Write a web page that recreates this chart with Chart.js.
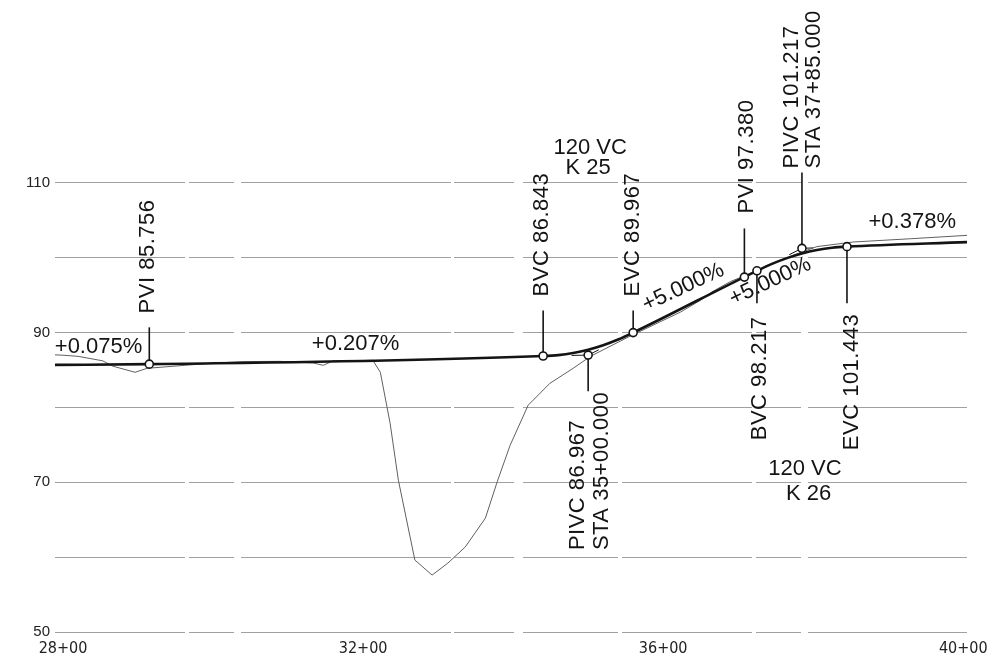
<!DOCTYPE html>
<html>
<head>
<meta charset="utf-8">
<script src="https://cdn.jsdelivr.net/npm/chart.js@4.4.1/dist/chart.umd.min.js"></script>
<style>
  html, body { margin: 0; padding: 0; background: #fff; }
  #wrap { width: 999px; height: 668px; }
</style>
</head>
<body>
<div id="wrap"><canvas id="profile" width="999" height="668"></canvas></div>
<script>
// Proposed grade (stations in feet, elevations in feet), incl. both 120' vertical curves
const gradeStations   = [2789, 2915, 3440, 3460, 3480, 3500, 3520, 3540, 3560, 3725, 3745, 3765, 3785, 3805, 3825, 3845, 4005];
const gradeElevations = [85.661, 85.756, 86.843, 86.964, 87.245, 87.686, 88.287, 89.047, 89.967, 98.217, 99.140, 99.909, 100.524, 100.985, 101.291, 101.444, 102.048];

// Existing ground
const groundStations   = [2789, 2800, 2820, 2853, 2866, 2896, 2912, 2996, 3040, 3089, 3134, 3147, 3160, 3213, 3223, 3236, 3247, 3269, 3292, 3313, 3336, 3363, 3379, 3396, 3420, 3449, 3480, 3503, 3556, 3623, 3650, 3665, 3690, 3710, 3740, 3776, 3805, 3853, 3930, 4005];
const groundElevations = [87.0, 86.95, 86.8, 86.2, 85.5, 84.67, 85.2, 85.87, 86.1, 86.13, 85.9, 85.6, 86.2, 86.27, 84.67, 77.87, 70.27, 59.6, 57.6, 59.2, 61.33, 65.2, 70.13, 74.93, 80.27, 83.2, 85.2, 86.8, 89.5, 92.7, 94.3, 95.4, 96.8, 97.6, 99.0, 100.4, 101.45, 102.06, 102.5, 102.95];

// Labelled profile points: PVI, BVC, PIVC, EVC
const markStations   = [2915, 3440, 3500, 3560, 3708.26, 3725, 3785, 3845];
const markElevations = [85.756, 86.843, 86.967, 89.967, 97.380, 98.217, 101.217, 101.443];

// Tangent stubs through each PIVC
const stubStations   = [[3478, 3500, 3514], [3768, 3785, 3800]];
const stubElevations = [[86.921, 86.967, 87.667], [100.367, 101.217, 101.274]];

// Axis ticks
const stationTicks    = [2800, 3200, 3600, 4000];
const elevationGrid   = [50, 60, 70, 80, 90, 100, 110];
const elevationLabels = [50, 70, 90, 110];

const toPoints = (xs, ys) => xs.map((s, i) => ({ x: s, y: ys[i] }));
const stationText = v => Math.floor(v / 100) + '+' + String(Math.round(v % 100)).padStart(2, '0');

// Leader lines: station, from elevation, to elevation
const leaders = [
  { s: 2915,    from: 85.756,  to: 90.67 },
  { s: 3440,    from: 86.843,  to: 92.93 },
  { s: 3560,    from: 89.967,  to: 92.93 },
  { s: 3500,    from: 86.967,  to: 82.13 },
  { s: 3708.26, from: 97.380,  to: 103.87 },
  { s: 3785,    from: 101.217, to: 111.33 },
  { s: 3725,    from: 98.217,  to: 93.87 },
  { s: 3845,    from: 101.443, to: 93.87 }
];

// Annotation text placed in station / elevation units
const notes = [
  { t: 'PVI 85.756',     s: 2913,   e: 92.53, rot: 'up' },
  { t: 'BVC 86.843',     s: 3438.7, e: 94.8,  rot: 'up' },
  { t: 'EVC 89.967',     s: 3560,   e: 94.8,  rot: 'up' },
  { t: 'PIVC 86.967',    s: 3486.7, e: 60.93, rot: 'up' },
  { t: 'STA 35+00.000',  s: 3518.0, e: 60.93, rot: 'up' },
  { t: 'PVI 97.380',     s: 3712,   e: 105.87, rot: 'up' },
  { t: 'PIVC 101.217',   s: 3771,   e: 111.87, rot: 'up' },
  { t: 'STA 37+85.000',  s: 3800.7, e: 111.87, rot: 'up' },
  { t: 'BVC 98.217',     s: 3728.7, e: 75.6,  rot: 'up' },
  { t: 'EVC 101.443',    s: 3851,   e: 74.27, rot: 'up' },
  { t: '120 VC',         s: 3502.7, e: 114.67 },
  { t: 'K 25',           s: 3500,   e: 112.0 },
  { t: '120 VC',         s: 3789,   e: 71.8 },
  { t: 'K 26',           s: 3794,   e: 68.47 },
  { t: '+0.075%',        s: 2847.3, e: 88.07 },
  { t: '+0.207%',        s: 3190,   e: 88.47 },
  { t: '+0.378%',        s: 3932,   e: 104.8 },
  { t: '+5.000%',        s: 3626.7, e: 96.0,  angle: -25 },
  { t: '+5.000%',        s: 3742.7, e: 96.8,  angle: -25 }
];

const TEXT_FONT = '22px "Liberation Sans", Arial, sans-serif';

const profileNotes = {
  id: 'profileNotes',
  beforeDatasetsDraw(chart) {
    const { ctx, scales: { x, y } } = chart;
    ctx.save();
    ctx.strokeStyle = '#141414';
    ctx.lineWidth = 1.6;
    leaders.forEach(l => {
      const px = x.getPixelForValue(l.s);
      ctx.beginPath();
      ctx.moveTo(px, y.getPixelForValue(l.from));
      ctx.lineTo(px, y.getPixelForValue(l.to));
      ctx.stroke();
    });
    ctx.lineWidth = 1;
    stubStations.forEach((xs, k) => {
      ctx.beginPath();
      xs.forEach((s, i) => {
        const px = x.getPixelForValue(s), py = y.getPixelForValue(stubElevations[k][i]);
        if (i === 0) ctx.moveTo(px, py); else ctx.lineTo(px, py);
      });
      ctx.stroke();
    });
    ctx.restore();
  },
  afterDatasetsDraw(chart) {
    const { ctx, scales: { x, y } } = chart;
    ctx.save();
    ctx.fillStyle = '#141414';
    ctx.font = TEXT_FONT;
    ctx.textBaseline = 'middle';
    notes.forEach(n => {
      const px = x.getPixelForValue(n.s), py = y.getPixelForValue(n.e);
      ctx.save();
      ctx.translate(px, py);
      if (n.rot === 'up') {
        ctx.rotate(-Math.PI / 2);
        ctx.textAlign = 'left';
        ctx.letterSpacing = '0.5px';
      } else {
        ctx.textAlign = 'center';
        if (n.angle) ctx.rotate(n.angle * Math.PI / 180);
      }
      ctx.fillText(n.t, 0, 0);
      ctx.restore();
    });
    ctx.restore();
  }
};

new Chart(document.getElementById('profile'), {
  type: 'line',
  data: {
    datasets: [
      {
        label: 'Profile points',
        data: toPoints(markStations, markElevations),
        showLine: false,
        pointRadius: 4,
        pointBorderWidth: 1.6,
        pointBackgroundColor: '#ffffff',
        pointBorderColor: '#141414',
        order: 0
      },
      {
        label: 'Proposed grade',
        data: toPoints(gradeStations, gradeElevations),
        borderColor: '#141414',
        borderWidth: 2.6,
        pointRadius: 0,
        cubicInterpolationMode: 'monotone',
        order: 1
      },
      {
        label: 'Existing ground',
        data: toPoints(groundStations, groundElevations),
        borderColor: '#606060',
        borderWidth: 1,
        pointRadius: 0,
        tension: 0,
        order: 2
      }
    ]
  },
  options: {
    responsive: false,
    animation: false,
    layout: { padding: { left: 0, right: 32, top: 2, bottom: 0 } },
    plugins: { legend: { display: false }, tooltip: { enabled: false } },
    scales: {
      x: {
        type: 'linear',
        min: 2789.3,
        max: 4005,
        afterBuildTicks: s => { s.ticks = stationTicks.map(v => ({ value: v })); },
        afterFit: s => { s.height = 36; },
        grid: { display: false, drawTicks: false },
        border: { display: false },
        ticks: {
          autoSkip: false,
          maxRotation: 0,
          padding: 7,
          color: '#222',
          font: { family: '"Liberation Sans Narrow", "DejaVu Sans Condensed", sans-serif', size: 16 },
          callback: v => stationText(v)
        }
      },
      y: {
        type: 'linear',
        min: 50,
        max: 132.5,
        afterBuildTicks: s => { s.ticks = elevationGrid.map(v => ({ value: v })); },
        afterFit: s => { s.width = 55; },
        grid: { color: 'rgba(120,120,120,0.7)', lineWidth: 1, drawTicks: false },
        border: { display: false, dash: [130, 4, 45, 7, 210, 3, 60, 9, 95, 4] },
        ticks: {
          padding: 5,
          color: '#222',
          font: { family: '"Liberation Sans", Arial, sans-serif', size: 15 },
          callback: v => elevationLabels.includes(v) ? String(v) : ''
        }
      }
    }
  },
  plugins: [profileNotes]
});
</script>
</body>
</html>
